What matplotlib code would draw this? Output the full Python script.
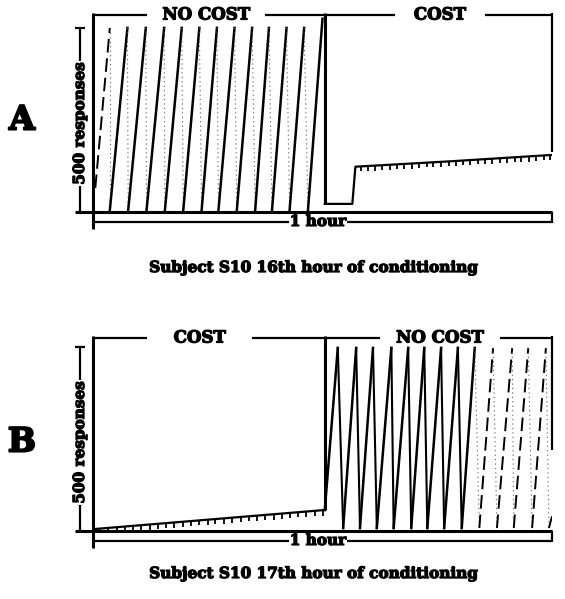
import matplotlib
matplotlib.use("Agg")
import matplotlib.pyplot as plt
import matplotlib.patheffects as pe

# cumulative records, x in minutes, y in responses
# panel A: 16th hour, no cost first then cost
a_nocost_t = [0.3, 2.2, 2.2, 4.5, 4.6, 6.9, 7.0, 9.3, 9.4, 11.6, 11.8, 13.9, 14.2,
              16.2, 16.4, 18.5, 18.8, 20.8, 21.2, 23.0, 23.4, 25.3, 25.7, 27.6, 28.1, 30.0]
a_nocost_y = [65, 500, 5, 500, 5, 500, 5, 500, 5, 500, 5, 500, 5,
              500, 5, 500, 5, 500, 5, 500, 5, 500, 5, 500, 5, 525]
a_cost_t = [30.3, 33.9, 34.3, 47.0, 60.0]
a_cost_y = [22, 22, 123, 138, 155]
a_tick_t = [35.0, 35.9, 36.9, 37.8, 38.8, 39.8, 40.7, 41.7, 42.6, 43.6, 44.5, 45.5, 46.5, 47.4,
            48.4, 49.3, 50.3, 51.2, 52.2, 53.2, 54.1, 55.1, 56.0, 57.0, 57.9, 58.9, 59.8]
a_tick_y = [124, 125, 126, 127, 129, 130, 131, 132, 133, 135, 136, 137, 138, 139,
            141, 142, 143, 144, 145, 147, 148, 149, 150, 151, 152, 154, 155]

# panel B: 17th hour, cost first then no cost
b_cost_t = [0.0, 30.3]
b_cost_y = [5, 57]
b_tick_t = [0.9, 2.0, 3.1, 4.2, 5.2, 6.3, 7.4, 8.5, 9.6, 10.6, 11.7, 12.8, 13.9, 15.0,
            16.0, 17.1, 18.2, 19.3, 20.4, 21.4, 22.5, 23.6, 24.7, 25.8, 26.8, 27.9, 29.0, 30.0]
b_tick_y = [6, 8, 10, 12, 14, 16, 18, 20, 21, 23, 25, 27, 29, 31,
            32, 34, 36, 38, 40, 42, 44, 45, 47, 49, 51, 53, 55, 56]
b_nocost_t = [30.3, 32.0, 32.7, 34.4, 34.9, 36.6, 37.1, 39.0, 39.3, 41.2, 41.6, 43.3, 43.7,
              45.5, 45.9, 47.7, 48.2, 49.9, 50.5, 52.3, 52.8, 54.8, 55.0, 56.9, 57.4, 59.2, 59.6, 60.0]
b_nocost_y = [57, 497, 8, 497, 8, 497, 8, 497, 8, 497, 8, 497, 8,
              497, 8, 497, 8, 497, 8, 497, 8, 497, 8, 497, 8, 497, 8, 40]

FONT = "DejaVu Serif"
INK = "black"
HEAVY = [pe.withStroke(linewidth=0.9, foreground=INK)]

fig = plt.figure(figsize=(5.65, 5.99), dpi=100)


def draw_frame(ax, top, first_label, second_label, gaps, mid_end, right_end):
    ax.set_xlim(0, 60)
    ax.set_ylim(0, top)
    ax.axis("off")
    kw = dict(color=INK, clip_on=False, solid_capstyle="butt")
    # left axis and baseline
    ax.plot([0, 0], [-46, top + 6], lw=2.2, **kw)
    ax.plot([-2.35, 60], [0, 0], lw=2.2, **kw)
    # 1 hour bracket
    ax.plot([0, 60], [-27, -27], lw=1.6, **kw)
    ax.plot([60, 60], [0, -29], lw=1.6, **kw)
    ax.text(29.4, -27, "1 hour", ha="center", va="center", fontsize=11,
            family=FONT, weight="bold", clip_on=False, path_effects=HEAVY,
            bbox=dict(fc="white", ec="none", pad=0.5))
    # 500 responses scale bar
    ax.plot([-1.7, -1.7], [0, 500], lw=1.6, **kw)
    ax.plot([-2.35, -1.05], [500, 500], lw=1.6, **kw)
    ax.text(-1.7, 240, "500 responses", rotation=90, ha="center", va="center",
            fontsize=11, family=FONT, weight="bold", clip_on=False, path_effects=HEAVY,
            bbox=dict(fc="white", ec="none", pad=1.0))
    # condition brackets along the top, broken where the labels sit
    g1, g2, g3, g4 = gaps
    for x0, x1 in [(0, g1), (g2, 30.3), (30.3, g3), (g4, 60)]:
        ax.plot([x0, x1], [top, top], lw=1.6, **kw)
    ax.plot([30.3, 30.3], [top + 6, mid_end], lw=2.2, **kw)
    ax.plot([60, 60], [top + 6, right_end], lw=1.6, **kw)
    ax.text((g1 + g2) / 2, top, first_label, ha="center", va="center", fontsize=12,
            family=FONT, weight="bold", clip_on=False, path_effects=HEAVY)
    ax.text((g3 + g4) / 2, top, second_label, ha="center", va="center", fontsize=12,
            family=FONT, weight="bold", clip_on=False, path_effects=HEAVY)


def draw_record(ax, t, y, solid_up_until, solid_down_until, first_faint=False):
    for i in range(len(t) - 1):
        up = y[i + 1] > y[i]
        faint = (i == 0 and first_faint)
        if up:
            if t[i] < solid_up_until and not faint:
                ax.plot(t[i:i + 2], y[i:i + 2], color=INK, lw=1.8)
            else:
                ax.plot(t[i:i + 2], y[i:i + 2], color=INK, lw=1.4, ls=(0, (7, 3)))
        else:
            if t[i] < solid_down_until:
                ax.plot(t[i:i + 2], y[i:i + 2], color=INK, lw=1.5)
            else:
                ax.plot(t[i:i + 2], y[i:i + 2], color="0.35", lw=0.8, ls=(0, (1, 3)))


def draw_ticks(ax, t, y):
    lows = [max(v - 14, 1) for v in y]
    ax.vlines(t, lows, y, color=INK, lw=1.3)


# ---- panel A
axA = fig.add_axes([93 / 565, (599 - 212) / 599, 459 / 565, 197 / 599])
draw_frame(axA, 535, "NO COST", "COST", (7.1, 22.5, 39.5, 51.2), 22, 163)
draw_record(axA, a_nocost_t, a_nocost_y, 99, 0, first_faint=True)
axA.plot(a_cost_t, a_cost_y, color=INK, lw=1.6)
draw_ticks(axA, a_tick_t, a_tick_y)

# ---- panel B
axB = fig.add_axes([93 / 565, (599 - 531) / 599, 459 / 565, 193 / 599])
draw_frame(axB, 524, "COST", "NO COST", (7.1, 20.8, 37.5, 53.2), 57, 220)
axB.plot(b_cost_t, b_cost_y, color=INK, lw=1.6)
draw_ticks(axB, b_tick_t, b_tick_y)
draw_record(axB, b_nocost_t, b_nocost_y, 50, 48)

# panel letters and captions
fig.text(22 / 565, 1 - 120 / 599, "A", ha="center", va="center", fontsize=24,
         family=FONT, weight="bold", path_effects=[pe.withStroke(linewidth=1.5, foreground=INK)])
fig.text(22 / 565, 1 - 442 / 599, "B", ha="center", va="center", fontsize=24,
         family=FONT, weight="bold", path_effects=[pe.withStroke(linewidth=1.5, foreground=INK)])
fig.text(313 / 565, 1 - 268 / 599, "Subject S10 16th hour of conditioning",
         ha="center", va="center", fontsize=11, family=FONT, weight="bold", path_effects=HEAVY)
fig.text(313 / 565, 1 - 574 / 599, "Subject S10 17th hour of conditioning",
         ha="center", va="center", fontsize=11, family=FONT, weight="bold", path_effects=HEAVY)

fig.savefig("out.png", dpi=100, facecolor="white")
